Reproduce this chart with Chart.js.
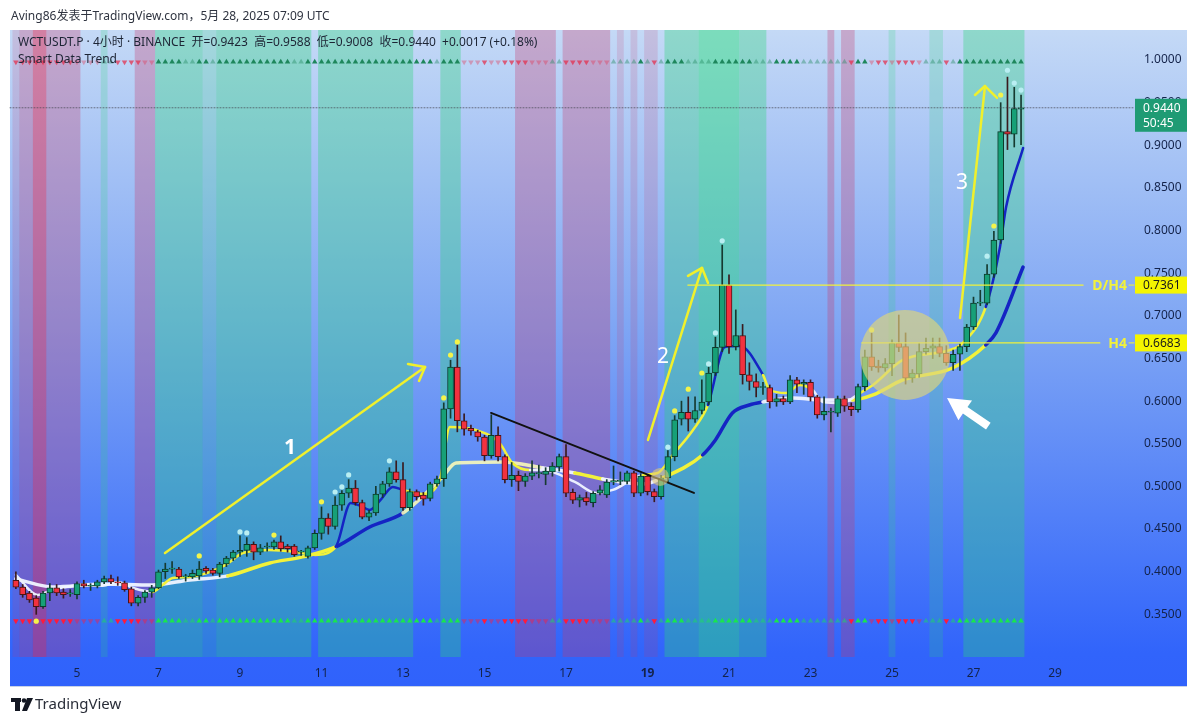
<!DOCTYPE html>
<html>
<head>
<meta charset="utf-8">
<script src="https://cdn.jsdelivr.net/npm/chart.js@4.4.1/dist/chart.umd.min.js"></script>
<style>
  html, body { margin: 0; padding: 0; background: #fff; }
  canvas { display: block; }
</style>
</head>
<body>
<canvas id="myChart" width="1200" height="722"></canvas>
<script>
// 4h candles, first one is May 3 12:00 UTC (x axis is in days of May)
var firstDay = 3.5;
var barDays = 1 / 6;

var openP = [0.390,0.382,0.375,0.369,0.359,0.375,0.381,0.376,0.374,0.373,
  0.386,0.383,0.383,0.388,0.392,0.388,0.387,0.380,0.363,0.370,
  0.376,0.381,0.400,0.403,0.403,0.394,0.394,0.395,0.404,0.402,
  0.398,0.409,0.416,0.423,0.425,0.432,0.423,0.429,0.429,0.435,
  0.430,0.430,0.423,0.418,0.428,0.445,0.463,0.453,0.478,0.492,
  0.498,0.481,0.464,0.469,0.491,0.503,0.517,0.508,0.475,0.494,
  0.490,0.486,0.503,0.509,0.591,0.640,0.577,0.568,0.564,0.558,
  0.536,0.560,0.535,0.508,0.513,0.506,0.512,0.515,0.514,0.517,
  0.523,0.535,0.493,0.484,0.487,0.481,0.492,0.490,0.505,0.506,
  0.506,0.516,0.492,0.512,0.494,0.488,0.510,0.535,0.579,0.587,
  0.579,0.589,0.599,0.633,0.663,0.736,0.664,0.677,0.631,0.623,
  0.616,0.616,0.599,0.603,0.599,0.625,0.620,0.622,0.605,0.584,
  0.587,0.586,0.603,0.594,0.590,0.617,0.652,0.641,0.639,0.644,
  0.668,0.664,0.627,0.632,0.658,0.662,0.664,0.656,0.645,0.655,
  0.664,0.687,0.715,0.715,0.749,0.789,0.916,0.913,0.9423];
var highP = [0.400,0.385,0.377,0.372,0.377,0.386,0.385,0.380,0.379,0.388,
  0.390,0.386,0.390,0.395,0.396,0.394,0.389,0.382,0.372,0.378,
  0.384,0.402,0.410,0.412,0.405,0.397,0.402,0.412,0.406,0.404,
  0.411,0.418,0.425,0.442,0.440,0.435,0.432,0.434,0.437,0.442,
  0.432,0.432,0.425,0.430,0.449,0.476,0.468,0.488,0.495,0.508,
  0.507,0.484,0.472,0.500,0.506,0.522,0.530,0.528,0.497,0.496,
  0.493,0.505,0.512,0.598,0.648,0.666,0.585,0.572,0.566,0.560,
  0.584,0.570,0.537,0.528,0.518,0.515,0.530,0.525,0.522,0.528,
  0.538,0.549,0.497,0.490,0.493,0.494,0.501,0.508,0.524,0.517,
  0.518,0.518,0.515,0.514,0.497,0.513,0.542,0.583,0.600,0.605,
  0.605,0.625,0.640,0.675,0.783,0.748,0.707,0.690,0.645,0.632,
  0.622,0.619,0.608,0.606,0.630,0.628,0.625,0.625,0.607,0.605,
  0.592,0.606,0.606,0.598,0.620,0.660,0.680,0.648,0.650,0.672,
  0.701,0.680,0.637,0.668,0.674,0.674,0.674,0.665,0.660,0.667,
  0.690,0.722,0.730,0.760,0.799,0.950,0.980,0.968,0.9588];
var lowP = [0.380,0.370,0.364,0.350,0.357,0.366,0.372,0.369,0.371,0.368,
  0.381,0.378,0.381,0.386,0.386,0.384,0.377,0.360,0.360,0.364,
  0.370,0.380,0.392,0.398,0.392,0.389,0.392,0.391,0.398,0.396,
  0.394,0.406,0.413,0.418,0.418,0.414,0.420,0.424,0.426,0.424,
  0.423,0.418,0.419,0.416,0.426,0.438,0.444,0.450,0.472,0.487,
  0.478,0.462,0.460,0.466,0.487,0.500,0.505,0.472,0.472,0.484,
  0.478,0.483,0.500,0.500,0.580,0.564,0.560,0.560,0.553,0.530,
  0.533,0.530,0.504,0.500,0.495,0.500,0.508,0.510,0.502,0.512,
  0.518,0.488,0.480,0.476,0.478,0.476,0.490,0.487,0.502,0.502,
  0.503,0.488,0.489,0.490,0.482,0.485,0.505,0.530,0.572,0.565,
  0.575,0.585,0.596,0.630,0.658,0.656,0.660,0.620,0.613,0.605,
  0.608,0.592,0.594,0.596,0.597,0.610,0.608,0.600,0.580,0.578,
  0.564,0.582,0.588,0.583,0.587,0.612,0.636,0.634,0.635,0.630,
  0.658,0.620,0.622,0.628,0.655,0.650,0.652,0.642,0.636,0.636,
  0.658,0.684,0.712,0.713,0.745,0.785,0.895,0.898,0.9008];
var closeP = [0.382,0.373,0.367,0.359,0.375,0.381,0.375,0.373,0.375,0.386,
  0.383,0.384,0.388,0.392,0.388,0.387,0.379,0.363,0.370,0.376,
  0.381,0.400,0.403,0.404,0.394,0.395,0.398,0.403,0.401,0.398,
  0.409,0.416,0.423,0.425,0.432,0.423,0.428,0.430,0.435,0.427,
  0.427,0.420,0.423,0.428,0.445,0.463,0.453,0.478,0.492,0.498,
  0.481,0.464,0.469,0.491,0.503,0.517,0.508,0.475,0.494,0.488,
  0.485,0.503,0.509,0.591,0.640,0.577,0.567,0.565,0.558,0.536,
  0.560,0.535,0.508,0.513,0.506,0.512,0.516,0.515,0.518,0.524,
  0.535,0.492,0.484,0.487,0.482,0.492,0.496,0.505,0.507,0.506,
  0.516,0.492,0.512,0.494,0.488,0.510,0.535,0.578,0.587,0.579,
  0.589,0.599,0.633,0.663,0.736,0.664,0.677,0.631,0.623,0.616,
  0.616,0.599,0.603,0.599,0.625,0.620,0.622,0.605,0.584,0.588,
  0.587,0.603,0.594,0.590,0.617,0.652,0.640,0.639,0.644,0.668,
  0.663,0.627,0.633,0.658,0.662,0.665,0.656,0.645,0.655,0.664,
  0.687,0.715,0.716,0.749,0.789,0.916,0.913,0.943,0.9440];

var dayTicks = [5, 7, 9, 11, 13, 15, 17, 19, 21, 23, 25, 27, 29];
var priceTicks = [0.35, 0.40, 0.45, 0.50, 0.55, 0.60, 0.65, 0.70, 0.75, 0.80, 0.85, 0.90, 0.95, 1.00];

// trend signal per candle: U/u up (strong/faint), D/d down
var signals = ['DDDDDDDDD','ddd','d','uu','DDDD','dd','UUUU','uu','UU','u','UUUUUUUUUUU','uu',
  'UUUUUUUUUUUUUU','UUUUU','u','UUU','ddd','D','dd','DDDD','ddd','uu','DDDD','ddd','uuuu',
  'U','u','D','u','UUU','uuuu','UUUUUU','uuu','UUUU','uuuuuuu','D','UU','d','DD','d','DDD',
  'd','uuu','D','u','UUUUUUUUUU'].join('');
// background band per candle: G/g/H green, R/r/X red, . none
var bgCodes = ['r','RR','XX','RRRRR','...','g','....','RRR','GGGGGGG','gg','GGGGGGGGGGGGGG','.',
  'GGGGGGGGGGGGGG','....','GGG','........','RRRRRR','.','RRRRRRR','.','r','.','r','.','rr','.',
  'GGGGG','HHHHHH','GGGG','.........','R','.','RR','.....','g','.....','gg','...','GGGGGGGGG'].join('');

// Smart Data Trend lines: candle index, value, colour of following segment
var fastI = [0,3.2,5.4,9.1,12.8,15.0,17.2,20.1,21.6,23.1,25.6,30.9,33.4,37.4,41.2,44.1,47.1,49.3,50.8,52.1,
  53.7,55.5,57.0,59.9,62.4,63.9,67.7,71.2,73.1,75.7,77.6,82.3,85.4,87.9,92.3,94.5,96.7,99.7,101.9,104.4,
  106.6,110.0,111.0,113.4,115.4,117.3,118.8,121.7,124.3,126.2,130.6,137.5,139.4,142.8,144.9,145.8,148.3];
var fastY = [0.3963,0.3728,0.3787,0.3834,0.3834,0.3880,0.3810,0.3763,0.3845,0.3927,0.3939,0.4080,0.4220,0.4256,0.4232,0.4197,0.4291,0.4807,0.4771,0.4725,
  0.4842,0.4994,0.4959,0.4912,0.5076,0.5698,0.5662,0.5510,0.5275,0.5193,0.5193,0.5053,0.4924,0.4959,0.5135,0.5158,0.5369,0.5662,0.5955,0.6635,
  0.6647,0.6307,0.6131,0.6096,0.6190,0.6131,0.5991,0.5979,0.6096,0.6190,0.6483,0.6600,0.6682,0.7104,0.7808,0.8277,0.8968];
var fastC = 'WWWWWWWYYYYYYYYYBBBBBBYYYYYYYWWWWWYYYYBBBYYYYWWWYYYYYBBBB';
var slowI = [0,5.4,12.8,20.1,25.6,31.2,37.4,42.2,47.1,52.1,57.0,62.8,64.8,71.7,77.6,82.3,86.4,92.3,95.2,101.1,
  103.0,105.5,108.0,110.0,114.4,118.8,123.2,126.2,130.6,137.9,142.8,144.3,148.3];
var slowY = [0.3916,0.3822,0.3857,0.3845,0.3904,0.3951,0.4103,0.4174,0.4291,0.4525,0.4689,0.5111,0.5275,0.5287,0.5217,0.5158,0.5088,0.5029,0.5100,0.5369,
  0.5545,0.5862,0.5955,0.5991,0.6038,0.6014,0.6014,0.6073,0.6249,0.6389,0.6659,0.6800,0.7573];
var slowC = 'WWWWWYYYBBPPPPWYWWYBBBBWWWYYYYBBB';

// marker dots above highs (Y yellow, L light)
var dotI = [3,27,33,34,38,45,47,48,49,55,63,64,65,96,97,99,101,102,103,104,126,143,144,145,146,147,148];
var dotY = [0.342,0.4185,0.4467,0.4455,0.443,0.482,0.4935,0.4994,0.5135,0.530,0.6038,0.654,0.6694,0.546,0.5885,0.614,0.633,0.6436,0.680,0.788,0.6835,0.770,0.8054,0.959,0.988,0.973,0.9648];
var dotC = 'YYLLYYLLLLYYYLYYYLLLYLYYLLL';

var levelDH4 = 0.7361;
var levelH4 = 0.6683;
var lastPrice = 0.9440;

function dayOf(i) { return firstDay + i * barDays; }

var up = closeP.map(function(c, i) { return c >= openP[i]; });

var bodies = openP.map(function(o, i) { return { x: dayOf(i), y: [o, closeP[i]] }; });
var wicks = highP.map(function(h, i) { return { x: dayOf(i), y: [lowP[i], h] }; });

var lineColors = { W: 'rgba(240,244,255,0.95)', Y: '#f2f23a', P: 'rgba(248,248,185,0.9)', B: '#1524c4' };

function linePoints(idx, vals) {
    return idx.map(function(v, k) { return { x: dayOf(v), y: vals[k] }; });
}

var sigColorsLow = { U: '#18e64e', u: 'rgba(24,230,78,0.45)', D: '#ff1a3c', d: 'rgba(255,26,60,0.45)' };
var sigColorsTop = { U: '#1e875c', u: 'rgba(30,135,92,0.4)', D: 'rgba(230,40,70,0.7)', d: 'rgba(230,40,70,0.35)' };
var sig = signals.split('');

function triRow(price, colors) {
    return {
        type: 'line',
        showLine: false,
        data: sig.map(function(s, i) { return { x: dayOf(i), y: price }; }),
        pointStyle: 'triangle',
        pointRadius: 3.2,
        pointBorderWidth: 0,
        pointBackgroundColor: sig.map(function(s) { return colors[s]; }),
        pointRotation: sig.map(function(s) { return (s === 'D' || s === 'd') ? 180 : 0; }),
        order: 0
    };
}

var bandColors = {
    G: 'rgba(40,215,120,0.34)', g: 'rgba(40,215,120,0.2)', H: 'rgba(40,225,120,0.46)',
    R: 'rgba(200,55,105,0.3)', r: 'rgba(200,55,105,0.16)', X: 'rgba(225,40,80,0.5)'
};

var font = "'Noto Sans', 'Noto Sans CJK SC', sans-serif";

var backdrop = {
    id: 'backdrop',
    beforeDraw: function(chart) {
        var c = chart.ctx, a = chart.chartArea, xs = chart.scales.x;
        c.save();
        c.fillStyle = '#ffffff';
        c.fillRect(0, 0, chart.width, chart.height);
        var g = c.createLinearGradient(0, 30, 0, 686);
        g.addColorStop(0, '#c4d9f6');
        g.addColorStop(0.45, '#7fa6f4');
        g.addColorStop(0.95, '#3164fb');
        g.addColorStop(1, '#3062fb');
        c.fillStyle = g;
        c.fillRect(10, 30, 1177, 656);
        c.fillStyle = '#c9d3e6';
        c.fillRect(10, 686, 1177, 1);
        // background bands, merged per run
        var k = 0;
        while (k < bgCodes.length) {
            var code = bgCodes[k], e = k;
            while (e + 1 < bgCodes.length && bgCodes[e + 1] === code) e++;
            if (code !== '.') {
                var x0 = xs.getPixelForValue(dayOf(k) - barDays / 2);
                var x1 = xs.getPixelForValue(dayOf(e) + barDays / 2);
                c.fillStyle = bandColors[code];
                c.fillRect(x0, a.top, x1 - x0, a.bottom - a.top);
            }
            k = e + 1;
        }
        c.fillStyle = '#2f3440';
        c.font = '12px ' + font;
        c.textBaseline = 'alphabetic';
        c.fillText('Aving86发表于TradingView.com，5月 28, 2025 07:09 UTC', 11, 20);
        c.restore();
    }
};

var overlay = {
    id: 'overlay',
    afterDatasetsDraw: function(chart) {
        var c = chart.ctx, xs = chart.scales.x, ys = chart.scales.y, a = chart.chartArea;
        function px(d) { return xs.getPixelForValue(d); }
        function py(v) { return ys.getPixelForValue(v); }
        function seg(d0, v0, d1, v1) {
            c.beginPath(); c.moveTo(px(d0), py(v0)); c.lineTo(px(d1), py(v1)); c.stroke();
        }
        c.save();
        c.lineCap = 'round';

        // last price dotted line
        c.strokeStyle = 'rgba(70,70,80,0.7)';
        c.lineWidth = 1;
        c.setLineDash([1, 2]);
        seg(xs.min, lastPrice, xs.max, lastPrice);
        c.setLineDash([]);

        // level lines
        c.strokeStyle = '#f2f23a';
        c.lineWidth = 1.2;
        seg(19.99, levelDH4, 29.69, levelDH4);
        seg(24.26, levelH4, 30.10, levelH4);

        // falling trend line
        c.strokeStyle = '#111111';
        c.lineWidth = 2;
        seg(15.16, 0.5862, 20.14, 0.4924);

        // consolidation circle
        c.fillStyle = 'rgba(220,212,125,0.68)';
        c.beginPath(); c.arc(px(25.32), py(0.6542), 45, 0, Math.PI * 2); c.fill();
        c.fillStyle = 'rgba(225,200,120,0.6)';
        c.beginPath(); c.arc(px(19.31), py(0.5111), 9, 0, Math.PI * 2); c.fill();

        // yellow arrows
        c.strokeStyle = '#f0f02c';
        c.lineWidth = 2.5;
        seg(7.159, 0.4220, 13.540, 0.6401);
        seg(13.540, 0.6401, 13.123, 0.6436);
        seg(13.540, 0.6401, 13.393, 0.6237);
        seg(19.012, 0.5545, 20.337, 0.7562);
        seg(20.337, 0.7562, 19.994, 0.7468);
        seg(20.337, 0.7562, 20.485, 0.7386);
        seg(26.669, 0.6975, 27.282, 0.9695);
        seg(27.282, 0.9695, 27.037, 0.9590);
        seg(27.282, 0.9695, 27.577, 0.9555);

        // wave numbers
        c.fillStyle = '#ffffff';
        c.textAlign = 'center';
        c.textBaseline = 'middle';
        c.font = 'bold 21px ' + font;
        c.fillText('1', px(10.227), py(0.5451));
        c.font = '21px ' + font;
        c.fillText('2', px(19.380), py(0.6518));
        c.fillText('3', px(26.718), py(0.8558));

        // white arrow
        var tx = px(26.35), ty = py(0.6038);
        var poly = [[0, 0], [25, 2.5], [20.5, 9.1], [43.6, 24.9], [39, 31.5], [15.9, 15.7], [11.4, 22.3]];
        c.fillStyle = '#ffffff';
        c.beginPath();
        poly.forEach(function(p, k) { if (k === 0) c.moveTo(tx + p[0], ty + p[1]); else c.lineTo(tx + p[0], ty + p[1]); });
        c.closePath(); c.fill();

        // level labels and price tags
        c.font = 'bold 14px ' + font;
        c.fillStyle = '#f2f23a';
        c.textAlign = 'right';
        c.fillText('D/H4', 1127, py(levelDH4) + 1);
        c.fillText('H4', 1127, py(levelH4) + 1);
        c.strokeStyle = '#f2f23a';
        c.lineWidth = 1;
        c.beginPath(); c.moveTo(1129, py(levelDH4)); c.lineTo(1134, py(levelDH4)); c.stroke();
        c.beginPath(); c.moveTo(1129, py(levelH4)); c.lineTo(1134, py(levelH4)); c.stroke();

        c.font = '12px ' + font;
        c.textAlign = 'left';
        [levelDH4, levelH4].forEach(function(v) {
            var y = py(v);
            c.fillStyle = '#f5f500';
            c.fillRect(a.right, y - 8.5, 52, 17);
            c.fillStyle = '#1a1a1a';
            c.fillText(v.toFixed(4), a.right + 8, y + 0.5);
        });
        var yl = py(lastPrice);
        c.fillStyle = '#1f9b74';
        c.fillRect(a.right, yl - 9, 52, 33);
        c.fillStyle = '#ffffff';
        c.fillText(lastPrice.toFixed(4), a.right + 8, yl + 1);
        c.fillText('50:45', a.right + 8, yl + 16);

        // legend text
        c.fillStyle = '#1d2535';
        c.font = '12px ' + font;
        c.fillText('WCTUSDT.P · 4小时 · BINANCE  开=0.9423  高=0.9588  低=0.9008  收=0.9440  +0.0017 (+0.18%)', 18, 43);
        c.fillText('Smart Data Trend', 18, 60);

        // TradingView footer
        c.fillStyle = '#131722';
        c.fillRect(11, 698, 10, 4);
        c.fillRect(15, 698, 5, 13);
        c.beginPath(); c.arc(24, 700.5, 2.3, 0, Math.PI * 2); c.fill();
        c.beginPath(); c.moveTo(27, 698); c.lineTo(33, 698); c.lineTo(27, 711); c.lineTo(22, 711); c.closePath(); c.fill();
        c.font = '15px ' + font;
        c.fillStyle = '#2a2e39';
        c.fillText('TradingView', 35, 705);
        c.restore();
    }
};

var ctx = document.getElementById('myChart').getContext('2d');

var myChart = new Chart(ctx, {
    type: 'bar',
    data: {
        datasets: [
            {
                type: 'bar',
                data: bodies,
                grouped: false,
                barThickness: 6,
                minBarLength: 1,
                borderSkipped: false,
                borderWidth: 1,
                backgroundColor: up.map(function(u) { return u ? '#17a077' : '#f2323f'; }),
                borderColor: up.map(function(u) { return u ? '#0c3a2b' : '#4a1414'; }),
                order: 1
            },
            {
                type: 'bar',
                data: wicks,
                grouped: false,
                barThickness: 1,
                borderWidth: 0,
                backgroundColor: up.map(function(u) { return u ? '#163a30' : '#3a1a1e'; }),
                order: 2
            },
            {
                type: 'line',
                data: linePoints(slowI, slowY),
                borderWidth: 3.5,
                pointRadius: 0,
                cubicInterpolationMode: 'monotone',
                borderCapStyle: 'round',
                borderColor: '#f2f23a',
                segment: { borderColor: function(s) { return lineColors[slowC[s.p0DataIndex]]; } },
                order: 4
            },
            {
                type: 'line',
                data: linePoints(fastI, fastY),
                borderWidth: 2.5,
                pointRadius: 0,
                cubicInterpolationMode: 'monotone',
                borderCapStyle: 'round',
                borderColor: '#f2f23a',
                segment: { borderColor: function(s) { return lineColors[fastC[s.p0DataIndex]]; } },
                order: 3
            },
            {
                type: 'line',
                showLine: false,
                data: dotI.map(function(i, k) { return { x: dayOf(i), y: dotY[k] }; }),
                pointRadius: 2.6,
                pointBorderWidth: 0,
                pointBackgroundColor: dotC.split('').map(function(k) { return k === 'Y' ? '#f4f44a' : '#b9eef2'; }),
                order: 0
            },
            triRow(0.3423, sigColorsLow),
            triRow(0.9977, sigColorsTop)
        ]
    },
    options: {
        responsive: false,
        animation: false,
        events: [],
        layout: { padding: { left: 10, top: 30, right: 10, bottom: 36 } },
        plugins: { legend: { display: false }, tooltip: { enabled: false } },
        scales: {
            x: {
                type: 'linear',
                min: 3.3558,
                max: 30.963,
                offset: false,
                grid: { display: false, drawTicks: false },
                border: { display: false },
                afterBuildTicks: function(s) { s.ticks = dayTicks.map(function(v) { return { value: v }; }); },
                afterFit: function(s) { s.height = 29; },
                ticks: {
                    color: '#14234a',
                    padding: 9,
                    maxRotation: 0,
                    autoSkip: false,
                    font: function(c) { return { family: font, size: 12, weight: (c.tick && c.tick.value === 19) ? 'bold' : 'normal' }; },
                    callback: function(v) { return String(v); }
                }
            },
            y: {
                type: 'linear',
                position: 'right',
                min: 0.3,
                max: 1.0352,
                grid: { display: false, drawTicks: false },
                border: { display: false },
                afterBuildTicks: function(s) { s.ticks = priceTicks.map(function(v) { return { value: v }; }); },
                afterFit: function(s) { s.width = 55; },
                ticks: {
                    color: '#14234a',
                    padding: 9,
                    font: { family: font, size: 12 },
                    callback: function(v) { return Number(v).toFixed(4); }
                }
            }
        }
    },
    plugins: [backdrop, overlay]
});
</script>
</body>
</html>
